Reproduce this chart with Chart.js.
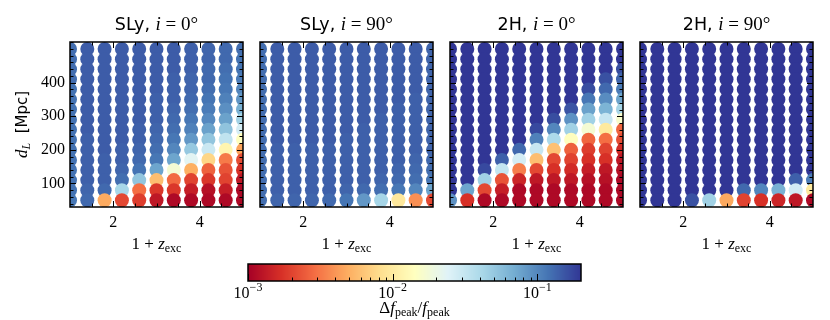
<!DOCTYPE html>
<html>
<head>
<meta charset="utf-8">
<script src="https://cdn.jsdelivr.net/npm/chart.js@4.4.1/dist/chart.umd.min.js"></script>
<style>
    html, body { margin: 0; padding: 0; background: #fff; }
    #wrap { position: relative; width: 830px; height: 320px; overflow: hidden; }
    #wrap canvas { position: absolute; }
</style>
</head>
<body>
<div id="wrap">
    <canvas id="p0" width="260" height="260" style="left:0px;top:0px"></canvas>
    <canvas id="p1" width="260" height="260" style="left:190px;top:0px"></canvas>
    <canvas id="p2" width="260" height="260" style="left:380px;top:0px"></canvas>
    <canvas id="p3" width="260" height="260" style="left:570px;top:0px"></canvas>
    <canvas id="cbar" width="430" height="70" style="left:200px;top:250px"></canvas>
</div>
<script>
// сетка: 1 + z_exc по x, d_L по y
const zExc = [1.0, 1.4, 1.8, 2.2, 2.6, 3.0, 3.4, 3.8, 4.2, 4.6, 5.0];
const dL = [50, 80, 110, 140, 170, 200, 230, 260, 290, 320, 350, 380, 410, 440, 470, 500];

// Δf_peak/f_peak, по столбцам (x), снизу вверх (d_L)
const slyI0 = [
    [0.115, 0.12, 0.12, 0.12, 0.12, 0.12, 0.12, 0.12, 0.12, 0.12, 0.12, 0.12, 0.125, 0.125, 0.125, 0.125],
    [0.13, 0.135, 0.14, 0.14, 0.14, 0.14, 0.14, 0.145, 0.145, 0.145, 0.145, 0.145, 0.145, 0.145, 0.145, 0.145],
    [0.0048, 0.13, 0.14, 0.14, 0.14, 0.145, 0.145, 0.145, 0.145, 0.145, 0.145, 0.145, 0.145, 0.145, 0.145, 0.145],
    [0.0021, 0.042, 0.125, 0.135, 0.14, 0.14, 0.145, 0.145, 0.145, 0.145, 0.145, 0.145, 0.145, 0.145, 0.145, 0.145],
    [0.0019, 0.0029, 0.052, 0.12, 0.13, 0.135, 0.14, 0.14, 0.145, 0.145, 0.145, 0.145, 0.145, 0.145, 0.145, 0.145],
    [0.0013, 0.0018, 0.0058, 0.075, 0.115, 0.125, 0.13, 0.135, 0.14, 0.14, 0.14, 0.145, 0.145, 0.145, 0.145, 0.145],
    [0.0011, 0.0018, 0.0028, 0.017, 0.075, 0.1, 0.115, 0.125, 0.13, 0.135, 0.14, 0.14, 0.14, 0.145, 0.145, 0.145],
    [0.0011, 0.0014, 0.002, 0.005, 0.023, 0.05, 0.085, 0.105, 0.115, 0.125, 0.13, 0.135, 0.135, 0.14, 0.14, 0.14],
    [0.0011, 0.0012, 0.0018, 0.0026, 0.0075, 0.03, 0.052, 0.077, 0.097, 0.11, 0.118, 0.125, 0.13, 0.13, 0.135, 0.135],
    [0.0011, 0.0014, 0.002, 0.0023, 0.0032, 0.012, 0.033, 0.053, 0.077, 0.092, 0.105, 0.115, 0.12, 0.125, 0.13, 0.13],
    [0.0011, 0.0011, 0.0013, 0.0017, 0.0022, 0.0045, 0.014, 0.027, 0.044, 0.066, 0.085, 0.1, 0.11, 0.118, 0.12, 0.125]
];
const slyI90 = [
    [0.125, 0.125, 0.125, 0.125, 0.125, 0.125, 0.125, 0.125, 0.125, 0.125, 0.125, 0.125, 0.125, 0.125, 0.125, 0.125],
    [0.135, 0.14, 0.14, 0.14, 0.14, 0.14, 0.145, 0.145, 0.145, 0.145, 0.145, 0.145, 0.145, 0.145, 0.145, 0.145],
    [0.135, 0.14, 0.14, 0.14, 0.14, 0.14, 0.145, 0.145, 0.145, 0.145, 0.145, 0.145, 0.145, 0.145, 0.145, 0.145],
    [0.135, 0.14, 0.14, 0.14, 0.14, 0.14, 0.145, 0.145, 0.145, 0.145, 0.145, 0.145, 0.145, 0.145, 0.145, 0.145],
    [0.13, 0.14, 0.14, 0.14, 0.14, 0.14, 0.145, 0.145, 0.145, 0.145, 0.145, 0.145, 0.145, 0.145, 0.145, 0.145],
    [0.118, 0.135, 0.14, 0.14, 0.14, 0.14, 0.14, 0.145, 0.145, 0.145, 0.145, 0.145, 0.145, 0.145, 0.145, 0.145],
    [0.085, 0.13, 0.14, 0.14, 0.14, 0.14, 0.14, 0.14, 0.145, 0.145, 0.145, 0.145, 0.145, 0.145, 0.145, 0.145],
    [0.043, 0.125, 0.135, 0.14, 0.14, 0.14, 0.14, 0.14, 0.14, 0.145, 0.145, 0.145, 0.145, 0.145, 0.145, 0.145],
    [0.0095, 0.115, 0.13, 0.135, 0.14, 0.14, 0.14, 0.14, 0.14, 0.14, 0.145, 0.145, 0.145, 0.145, 0.145, 0.145],
    [0.0038, 0.1, 0.125, 0.13, 0.135, 0.14, 0.14, 0.14, 0.14, 0.14, 0.14, 0.145, 0.145, 0.145, 0.145, 0.145],
    [0.0021, 0.075, 0.115, 0.125, 0.13, 0.135, 0.135, 0.135, 0.135, 0.135, 0.135, 0.135, 0.135, 0.135, 0.135, 0.135]
];
const h2I0 = [
    [0.09, 0.22, 0.25, 0.25, 0.25, 0.25, 0.25, 0.25, 0.25, 0.25, 0.25, 0.25, 0.25, 0.25, 0.25, 0.25],
    [0.0017, 0.075, 0.2, 0.25, 0.25, 0.25, 0.25, 0.25, 0.25, 0.25, 0.25, 0.25, 0.25, 0.25, 0.25, 0.25],
    [0.0011, 0.0021, 0.045, 0.17, 0.25, 0.25, 0.25, 0.25, 0.25, 0.25, 0.25, 0.25, 0.25, 0.25, 0.25, 0.25],
    [0.0011, 0.0014, 0.0023, 0.032, 0.14, 0.22, 0.25, 0.25, 0.25, 0.25, 0.25, 0.25, 0.25, 0.25, 0.25, 0.25],
    [0.0011, 0.0011, 0.0015, 0.0033, 0.027, 0.13, 0.2, 0.25, 0.25, 0.25, 0.25, 0.25, 0.25, 0.25, 0.25, 0.25],
    [0.0011, 0.0011, 0.0013, 0.0021, 0.0058, 0.031, 0.105, 0.17, 0.25, 0.25, 0.25, 0.25, 0.25, 0.25, 0.25, 0.25],
    [0.0011, 0.0011, 0.0013, 0.0017, 0.0021, 0.006, 0.04, 0.1, 0.165, 0.25, 0.25, 0.25, 0.25, 0.25, 0.25, 0.25],
    [0.0011, 0.0011, 0.0013, 0.0016, 0.002, 0.0026, 0.014, 0.045, 0.09, 0.155, 0.22, 0.25, 0.25, 0.25, 0.25, 0.25],
    [0.0011, 0.0011, 0.0012, 0.0014, 0.0017, 0.0019, 0.0027, 0.017, 0.045, 0.077, 0.115, 0.165, 0.22, 0.25, 0.25, 0.25],
    [0.0011, 0.0011, 0.0012, 0.0013, 0.0017, 0.002, 0.0029, 0.0098, 0.031, 0.064, 0.095, 0.13, 0.16, 0.2, 0.25, 0.25],
    [0.0011, 0.0011, 0.0011, 0.0012, 0.0013, 0.0016, 0.0022, 0.0027, 0.016, 0.043, 0.075, 0.11, 0.135, 0.165, 0.2, 0.25]
];
const h2I90 = [
    [0.25, 0.25, 0.25, 0.25, 0.25, 0.25, 0.25, 0.25, 0.25, 0.25, 0.25, 0.25, 0.25, 0.25, 0.25, 0.25],
    [0.25, 0.25, 0.25, 0.25, 0.25, 0.25, 0.25, 0.25, 0.25, 0.25, 0.25, 0.25, 0.25, 0.25, 0.25, 0.25],
    [0.25, 0.25, 0.25, 0.25, 0.25, 0.25, 0.25, 0.25, 0.25, 0.25, 0.25, 0.25, 0.25, 0.25, 0.25, 0.25],
    [0.16, 0.25, 0.25, 0.25, 0.25, 0.25, 0.25, 0.25, 0.25, 0.25, 0.25, 0.25, 0.25, 0.25, 0.25, 0.25],
    [0.045, 0.25, 0.25, 0.25, 0.25, 0.25, 0.25, 0.25, 0.25, 0.25, 0.25, 0.25, 0.25, 0.25, 0.25, 0.25],
    [0.0047, 0.22, 0.25, 0.25, 0.25, 0.25, 0.25, 0.25, 0.25, 0.25, 0.25, 0.25, 0.25, 0.25, 0.25, 0.25],
    [0.002, 0.13, 0.25, 0.25, 0.25, 0.25, 0.25, 0.25, 0.25, 0.25, 0.25, 0.25, 0.25, 0.25, 0.25, 0.25],
    [0.0017, 0.1, 0.22, 0.25, 0.25, 0.25, 0.25, 0.25, 0.25, 0.25, 0.25, 0.25, 0.25, 0.25, 0.25, 0.25],
    [0.0015, 0.066, 0.2, 0.25, 0.25, 0.25, 0.25, 0.25, 0.25, 0.25, 0.25, 0.25, 0.25, 0.25, 0.25, 0.25],
    [0.0013, 0.028, 0.14, 0.25, 0.25, 0.25, 0.25, 0.25, 0.25, 0.25, 0.25, 0.25, 0.25, 0.25, 0.25, 0.25],
    [0.0011, 0.0098, 0.11, 0.22, 0.25, 0.25, 0.25, 0.25, 0.25, 0.25, 0.25, 0.25, 0.25, 0.25, 0.25, 0.25]
];

const panelEos = ['SLy', 'SLy', '2H', '2H'];
const panelIncl = ['0', '90', '0', '90'];
const panelValues = [slyI0, slyI90, h2I0, h2I90];

const xMajor = [2, 4];
const xMinor = [1.5, 2.5, 3, 3.5, 4.5];
const yMajor = [100, 200, 300, 400];
const yMinor = [40, 60, 80, 120, 140, 160, 180, 220, 240, 260, 280, 320, 340, 360, 380, 420, 440, 460, 480, 500, 520];

const cMin = 0.001, cMax = 0.2;
const cbarMajor = [0.001, 0.01, 0.1];
const cbarExp = ['3', '2', '1'];
const cbarMinor = [0.002, 0.003, 0.004, 0.005, 0.006, 0.007, 0.008, 0.009,
                   0.02, 0.03, 0.04, 0.05, 0.06, 0.07, 0.08, 0.09];

const SERIF = '"Liberation Serif", "DejaVu Serif", serif';
const SANS = '"DejaVu Sans", sans-serif';

// RdYlBu, как в matplotlib
const rdylbu = ['#a50026', '#d73027', '#f46d43', '#fdae61', '#fee090', '#ffffbf',
                '#e0f3f8', '#abd9e9', '#74add1', '#4575b4', '#313695'];
const rgbStops = rdylbu.map(h => [1, 3, 5].map(i => parseInt(h.substr(i, 2), 16)));

function cmap(v) {
    let t = (Math.log10(v) - Math.log10(cMin)) / (Math.log10(cMax) - Math.log10(cMin));
    t = Math.min(1, Math.max(0, t));
    const s = t * 10;
    const i = Math.min(9, Math.floor(s));
    const f = s - i;
    const a = rgbStops[i], b = rgbStops[i + 1];
    const c = a.map((x, k) => Math.round(x + (b[k] - x) * f));
    return `rgb(${c[0]},${c[1]},${c[2]})`;
}

function drawParts(ctx, parts, cx, baseY) {
    let total = 0;
    parts.forEach(p => { ctx.font = p.font; p.w = ctx.measureText(p.t).width; total += p.w; });
    let x = cx - total / 2;
    ctx.textAlign = 'left';
    ctx.textBaseline = 'alphabetic';
    ctx.fillStyle = '#000';
    parts.forEach(p => { ctx.font = p.font; ctx.fillText(p.t, x, baseY + (p.dy || 0)); x += p.w; });
}

function line(ctx, x1, y1, x2, y2) {
    ctx.beginPath();
    ctx.moveTo(x1, y1);
    ctx.lineTo(x2, y2);
    ctx.stroke();
}

// рамка, засечки внутрь, заголовок и подписи осей
const panelDecor = {
    id: 'panelDecor',
    afterDraw(chart, args, opts) {
        const ctx = chart.ctx;
        const { left, right, top, bottom } = chart.chartArea;
        const xs = chart.scales.x, ys = chart.scales.y;
        ctx.save();
        ctx.strokeStyle = '#000';
        ctx.lineWidth = 1;
        xs.ticks.forEach(t => {
            const px = Math.round(xs.getPixelForValue(t.value)) + 0.5;
            const len = xMajor.includes(t.value) ? 6 : 3.5;
            line(ctx, px, bottom, px, bottom - len);
            line(ctx, px, top, px, top + len);
        });
        ys.ticks.forEach(t => {
            const py = Math.round(ys.getPixelForValue(t.value)) + 0.5;
            if (py < top || py > bottom) return;
            const len = yMajor.includes(t.value) ? 6 : 3.5;
            line(ctx, left, py, left + len, py);
            line(ctx, right, py, right - len, py);
        });
        ctx.lineWidth = 1.5;
        ctx.strokeRect(left, top, right - left, bottom - top);

        const cx = (left + right) / 2;
        drawParts(ctx, [
            { t: opts.eos + ', ', font: `17.5px ${SANS}` },
            { t: 'i', font: `italic 19px ${SERIF}` },
            { t: ' = ' + opts.incl + '°', font: `19px ${SERIF}` }
        ], cx, 30);
        drawParts(ctx, [
            { t: '1 + ', font: `17px ${SERIF}` },
            { t: 'z', font: `italic 17px ${SERIF}` },
            { t: 'exc', font: `12px ${SERIF}`, dy: 3 }
        ], cx, 249);
        if (opts.yTitle) {
            ctx.translate(27, (top + bottom) / 2);
            ctx.rotate(-Math.PI / 2);
            drawParts(ctx, [
                { t: 'd', font: `italic 17px ${SERIF}` },
                { t: 'L', font: `italic 12px ${SERIF}`, dy: 3 },
                { t: '  [Mpc]', font: `15px ${SANS}` }
            ], 0, 0);
        }
        ctx.restore();
    }
};

function buildPoints(vals) {
    const pts = [];
    // нижние ряды рисуются поверх верхних
    zExc.forEach((x, c) => {
        for (let r = dL.length - 1; r >= 0; r--) {
            pts.push({ x: x, y: dL[r], v: vals[c][r] });
        }
    });
    return pts;
}

panelValues.forEach((vals, k) => {
    new Chart(document.getElementById('p' + k), {
        type: 'scatter',
        data: {
            datasets: [{
                data: buildPoints(vals),
                pointRadius: 7,
                pointHoverRadius: 7,
                pointBorderWidth: 0,
                borderWidth: 0,
                backgroundColor: ctx => cmap(ctx.raw.v),
                clip: 0
            }]
        },
        options: {
            responsive: false,
            animation: false,
            events: [],
            layout: { padding: { left: 0, right: 17, top: 42, bottom: 0 } },
            plugins: {
                legend: { display: false },
                tooltip: { enabled: false },
                panelDecor: { eos: panelEos[k], incl: panelIncl[k], yTitle: k === 0 }
            },
            scales: {
                x: {
                    type: 'linear', min: 1, max: 5,
                    afterBuildTicks: s => { s.ticks = xMajor.concat(xMinor).map(v => ({ value: v })); },
                    afterFit: s => { s.height = 53; },
                    grid: { display: false, drawTicks: false },
                    border: { display: false },
                    ticks: {
                        autoSkip: false, maxRotation: 0, padding: 6, color: '#000',
                        font: { family: SERIF, size: 16 },
                        callback: v => xMajor.includes(v) ? String(v) : ''
                    }
                },
                y: {
                    type: 'linear', min: 30, max: 521,
                    afterBuildTicks: s => { s.ticks = yMajor.concat(yMinor).map(v => ({ value: v })); },
                    afterFit: s => { s.width = 70; },
                    grid: { display: false, drawTicks: false },
                    border: { display: false },
                    ticks: {
                        display: k === 0,
                        autoSkip: false, padding: 5, color: '#000',
                        font: { family: SERIF, size: 16 },
                        callback: v => yMajor.includes(v) ? String(v) : ''
                    }
                }
            }
        },
        plugins: [panelDecor]
    });
});

// цветовая шкала
const cbarDecor = {
    id: 'cbarDecor',
    afterDraw(chart) {
        const ctx = chart.ctx;
        const { left, right, top, bottom } = chart.chartArea;
        const xs = chart.scales.x;
        ctx.save();
        for (let px = Math.floor(left); px < right; px++) {
            ctx.fillStyle = cmap(xs.getValueForPixel(px + 0.5));
            ctx.fillRect(px, top, 1, bottom - top);
        }
        ctx.strokeStyle = '#000';
        ctx.lineWidth = 1;
        cbarMinor.forEach(v => {
            const px = Math.round(xs.getPixelForValue(v)) + 0.5;
            line(ctx, px, bottom, px, bottom - 3.5);
        });
        cbarMajor.forEach((v, i) => {
            const px = Math.round(xs.getPixelForValue(v)) + 0.5;
            line(ctx, px, bottom, px, bottom - 7);
            drawParts(ctx, [
                { t: '10', font: `16px ${SERIF}` },
                { t: '−' + cbarExp[i], font: `12px ${SERIF}`, dy: -7 }
            ], xs.getPixelForValue(v), 48);
        });
        ctx.lineWidth = 1.5;
        ctx.strokeRect(left, top, right - left, bottom - top);
        drawParts(ctx, [
            { t: 'Δ', font: `17px ${SERIF}` },
            { t: 'f', font: `italic 17px ${SERIF}` },
            { t: 'peak', font: `12px ${SERIF}`, dy: 3 },
            { t: '/', font: `17px ${SERIF}` },
            { t: 'f', font: `italic 17px ${SERIF}` },
            { t: 'peak', font: `12px ${SERIF}`, dy: 3 }
        ], (left + right) / 2, 63);
        ctx.restore();
    }
};

new Chart(document.getElementById('cbar'), {
    type: 'scatter',
    data: { datasets: [] },
    options: {
        responsive: false,
        animation: false,
        events: [],
        layout: { padding: { left: 48, right: 49, top: 14, bottom: 0 } },
        plugins: { legend: { display: false }, tooltip: { enabled: false } },
        scales: {
            x: {
                type: 'logarithmic', min: cMin, max: cMax,
                afterFit: s => { s.height = 39; },
                grid: { display: false, drawTicks: false },
                border: { display: false },
                ticks: { display: false }
            },
            y: { display: false, min: 0, max: 1 }
        }
    },
    plugins: [cbarDecor]
});
</script>
</body>
</html>
